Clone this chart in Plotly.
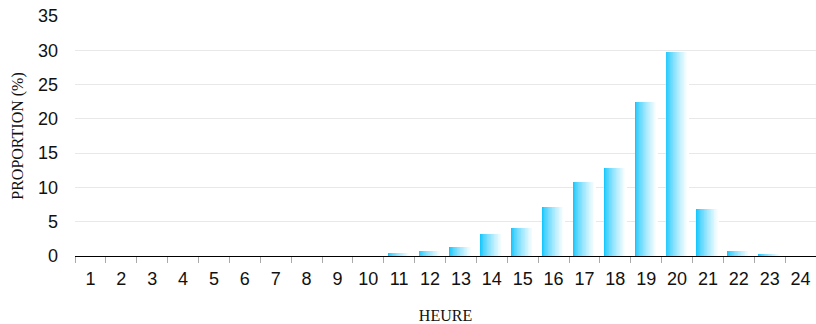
import plotly.graph_objects as go

# Share of events by hour of day
hours = [str(h) for h in range(1, 25)]
proportion = [0, 0, 0, 0, 0, 0, 0, 0, 0, 0,
              0.4, 0.7, 1.3, 3.2, 4.05, 7.1, 10.8, 12.8,
              22.5, 29.8, 6.8, 0.7, 0.3, 0]

y_ticks = [0, 5, 10, 15, 20, 25, 30, 35]

# Each bar is built from thin vertical slices shading from cyan to white
BAR_WIDTH = 0.71
N_SLICES = 28
START_RGB = (22, 198, 255)
END_RGB = (255, 255, 255)

fig = go.Figure()
slice_w = BAR_WIDTH / N_SLICES
for i in range(N_SLICES):
    t = (i / (N_SLICES - 1)) ** 0.75
    r, g, b = (round(s + (e - s) * t) for s, e in zip(START_RGB, END_RGB))
    fig.add_trace(go.Bar(
        x=hours,
        y=proportion,
        width=slice_w * 1.05,
        offset=-BAR_WIDTH / 2 + i * slice_w,
        marker=dict(color=f"rgb({r},{g},{b})", line=dict(width=0)),
        hoverinfo="skip" if i else "x+y",
        showlegend=False,
    ))

fig.update_layout(
    width=816,
    height=324,
    margin=dict(l=75, r=0, t=16, b=68),
    paper_bgcolor="white",
    plot_bgcolor="white",
    barmode="overlay",
    bargap=0,
    font=dict(family="Liberation Sans, Arial, sans-serif", size=18, color="#111"),
)

serif = "Liberation Serif, Times New Roman, serif"

fig.update_xaxes(
    type="category",
    range=[-0.5, 23.5],
    tickson="boundaries",
    ticks="outside",
    ticklen=6,
    tickcolor="#aaaaaa",
    tickwidth=1,
    showline=True,
    linecolor="black",
    linewidth=1.2,
    showgrid=False,
    ticklabelstandoff=6,
    tickfont=dict(size=18),
    title=dict(text="HEURE", font=dict(family=serif, size=16), standoff=22),
)

fig.update_yaxes(
    range=[0, 35],
    tickvals=y_ticks,
    showgrid=True,
    gridcolor="#e8e8e8",
    gridwidth=1,
    zeroline=False,
    showline=False,
    ticks="",
    ticklabelstandoff=16,
    tickfont=dict(size=18),
    title=dict(text="PROPORTION (%)", font=dict(family=serif, size=16), standoff=10),
)

fig.write_html("out.html")
